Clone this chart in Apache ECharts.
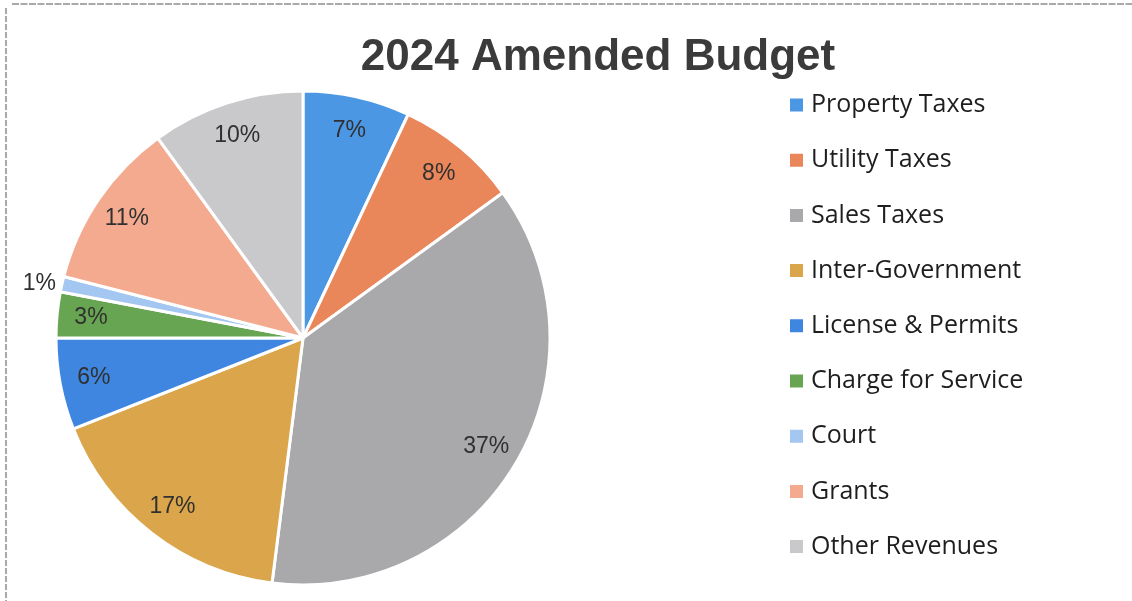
<!DOCTYPE html>
<html>
<head>
<meta charset="utf-8">
<script src="https://cdn.jsdelivr.net/npm/echarts@6/dist/echarts.min.js"></script>
<style>
  html, body { margin: 0; padding: 0; background: #ffffff; }
  #chart { width: 1132px; height: 601px; }
</style>
</head>
<body>
<div id="chart"></div>
<script>
// Revenue sources and their share of the 2024 amended budget (percent)
const categories = [
  'Property Taxes', 'Utility Taxes', 'Sales Taxes', 'Inter-Government',
  'License & Permits', 'Charge for Service', 'Court', 'Grants', 'Other Revenues'
];
const shares = [7, 8, 37, 17, 6, 3, 1, 11, 10];
const sliceColors = [
  '#4b97e4', '#e9865a', '#a9a9ab', '#dba54b',
  '#3e86df', '#67a552', '#a3c7f0', '#f4aa8f', '#c9c9cc'
];
// Slices too thin to hold a label inside get it placed just outside the rim
const outsideLabels = ['Court'];

const chart = echarts.init(document.getElementById('chart'), null, { renderer: 'canvas' });

const CENTER = [303, 338];
const RADIUS = 247;

const sliceData = categories.map((name, i) => ({
  name,
  value: shares[i],
  itemStyle: { color: sliceColors[i] }
}));

// Transparent ring over the outer part of the pie; its inside labels sit near the rim
const labelData = categories.map((name, i) => {
  const item = { name, value: shares[i] };
  if (outsideLabels.includes(name)) {
    item.label = { position: 'outside', distanceToLabelLine: 2 };
    item.labelLine = { show: false, length: 2, length2: 2 };
  }
  return item;
});

chart.setOption({
  animation: false,
  backgroundColor: '#ffffff',
  title: {
    text: '2024 Amended Budget',
    left: 593,
    top: 31,
    textAlign: 'center',
    textStyle: {
      fontFamily: 'Liberation Sans, Arial, sans-serif',
      fontWeight: 'bold',
      fontSize: 44,
      color: '#3b3b3b'
    }
  },
  legend: {
    orient: 'vertical',
    left: 788,
    top: 91,
    padding: 0,
    icon: 'rect',
    itemWidth: 15,
    itemHeight: 15,
    itemGap: 27.2,
    data: categories.map((name, i) => ({ name, itemStyle: { color: sliceColors[i] } })),
    textStyle: {
      fontFamily: 'Open Sans, sans-serif',
      fontSize: 25,
      lineHeight: 28,
      color: '#1e1e1e',
      padding: [0, 0, 0, 2]
    },
    selectedMode: false
  },
  graphic: [
    { type: 'line', shape: { x1: 12, y1: 4, x2: 1132, y2: 4 },
      style: { stroke: '#555555', lineWidth: 1, lineDash: [7, 1.5] }, silent: true },
    { type: 'line', shape: { x1: 6, y1: 8, x2: 6, y2: 601 },
      style: { stroke: '#555555', lineWidth: 1, lineDash: [6, 2] }, silent: true }
  ],
  series: [
    {
      name: 'Budget',
      type: 'pie',
      center: CENTER,
      radius: [0, RADIUS],
      startAngle: 90,
      clockwise: true,
      avoidLabelOverlap: false,
      silent: true,
      label: { show: false },
      labelLine: { show: false },
      itemStyle: { borderColor: '#ffffff', borderWidth: 3 },
      data: sliceData
    },
    {
      name: 'Labels',
      type: 'pie',
      center: CENTER,
      radius: [RADIUS * 0.70, RADIUS],
      startAngle: 90,
      clockwise: true,
      avoidLabelOverlap: false,
      silent: true,
      itemStyle: { color: 'rgba(0,0,0,0)', borderWidth: 0 },
      label: {
        show: true,
        position: 'inside',
        formatter: p => p.value + '%',
        fontFamily: 'Liberation Sans, Arial, sans-serif',
        fontSize: 23,
        color: '#303030'
      },
      labelLine: { show: false },
      data: labelData
    }
  ]
});
</script>
</body>
</html>
